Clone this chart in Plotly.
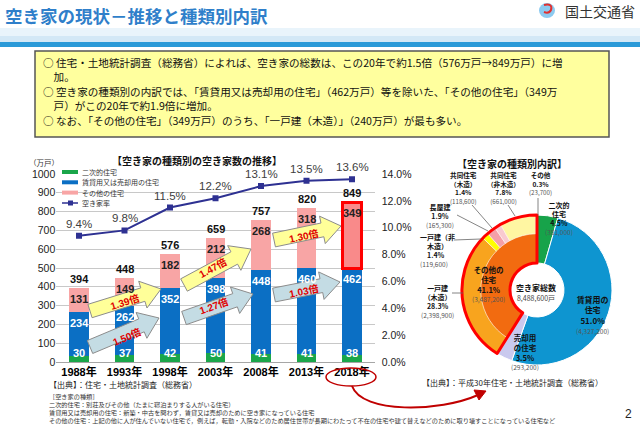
import math
import plotly.graph_objects as go

W, H = 640, 432
JP = "Noto Sans CJK JP"
NUM = "Liberation Sans, Noto Sans CJK JP"

# ---------------- data ----------------
years = ["1988年", "1993年", "1998年", "2003年", "2008年", "2013年", "2018年"]
second_homes = [30, 37, 42, 50, 41, 41, 38]          # 二次的住宅
rental_sale = [234, 262, 352, 398, 448, 460, 462]    # 賃貸用又は売却用の住宅
other_homes = [131, 149, 182, 212, 268, 318, 349]    # その他の住宅
totals = [394, 448, 576, 659, 757, 820, 849]
vacancy_rate = [9.4, 9.8, 11.5, 12.2, 13.1, 13.5, 13.6]  # 空き家率 %

donut_main_labels = ["二次的住宅", "賃貸用の住宅", "売却用の住宅", "その他の住宅"]
donut_main_values = [381000, 4327200, 293200, 3487200]
donut_sub_labels = ["一戸建（木造）", "一戸建（非木造）", "長屋建", "共同住宅（木造）", "共同住宅（非木造）", "その他"]
donut_sub_values = [2398900, 119600, 165300, 118600, 661000, 23700]
donut_total = 8488600


def px(x):
    return x / W


def py(y):
    return 1 - y / H


def ann(x, y, s, size, color="#000", bold=False, xanchor="center", yanchor="middle",
        family=JP, angle=0, align="center"):
    return dict(x=px(x), y=py(y), xref="paper", yref="paper", text=s, showarrow=False,
                font=dict(size=size, color=color, family=family, weight="bold" if bold else "normal"),
                xanchor=xanchor, yanchor=yanchor, textangle=angle, align=align, borderpad=0)


def rect(x0, y0, x1, y1, fill, line_color=None, lw=0, layer="above"):
    return dict(type="rect", xref="paper", yref="paper", x0=px(x0), x1=px(x1), y0=py(y0), y1=py(y1),
                fillcolor=fill, line=dict(color=line_color or "rgba(0,0,0,0)", width=lw), layer=layer)


def line(x0, y0, x1, y1, color="#555", lw=1):
    return dict(type="line", xref="paper", yref="paper", x0=px(x0), x1=px(x1), y0=py(y0), y1=py(y1),
                line=dict(color=color, width=lw))


def block_arrow(x0, y0, x1, y1, fill, shaft=14, head_w=28, head_len=19):
    L = math.hypot(x1 - x0, y1 - y0)
    dx, dy = (x1 - x0) / L, (y1 - y0) / L
    nx, ny = -dy, dx
    nkx, nky = x0 + dx * (L - head_len), y0 + dy * (L - head_len)
    pts = [
        (x0 + nx * shaft / 2, y0 + ny * shaft / 2),
        (nkx + nx * shaft / 2, nky + ny * shaft / 2),
        (nkx + nx * head_w / 2, nky + ny * head_w / 2),
        (x1, y1),
        (nkx - nx * head_w / 2, nky - ny * head_w / 2),
        (nkx - nx * shaft / 2, nky - ny * shaft / 2),
        (x0 - nx * shaft / 2, y0 - ny * shaft / 2),
    ]
    path = "M " + " L ".join(f"{px(a):.5f},{py(b):.5f}" for a, b in pts) + " Z"
    ang = math.degrees(math.atan2(y1 - y0, x1 - x0))
    return dict(type="path", xref="paper", yref="paper", path=path, fillcolor=fill,
                line=dict(color="#8c8c8c", width=1)), ang


fig = go.Figure()
xi = list(range(len(years)))
BW = 0.42

# ---------------- bar chart ----------------
fig.add_bar(x=xi, y=second_homes, width=BW, marker=dict(color="#1aa64a", line=dict(width=0)))
fig.add_bar(x=xi, y=rental_sale, width=BW, marker=dict(color="#0b6fc4", line=dict(width=0)))
pink_colors = ["#f8a5a5"] * (len(xi) - 1) + ["#f98a8a"]
fig.add_bar(x=xi, y=other_homes, width=BW,
            marker=dict(color=pink_colors,
                        line=dict(color=["rgba(0,0,0,0)"] * (len(xi) - 1) + ["#ff0000"],
                                  width=[0] * (len(xi) - 1) + [3])))
fig.add_scatter(x=xi, y=vacancy_rate, yaxis="y2", mode="lines+markers",
                line=dict(color="#2e3192", width=2),
                marker=dict(symbol="square", size=6, color="#2e3192"))

# ---------------- donut ----------------
dom = dict(x=[px(462), px(612)], y=[py(365), py(215)])
main_colors = ["#17a34a", "#0e95d0", "#c9c9ee", "#f26b10"]
fig.add_pie(values=donut_main_values, labels=donut_main_labels, hole=0.36, sort=False,
            direction="clockwise", rotation=0, textinfo="none", domain=dom,
            marker=dict(colors=main_colors, line=dict(color="white", width=1)))
sub_colors = ["#f8a41e", "#ffff00", "#f4a0a8", "#f9cad0", "#fff6a2", "#fffbe0"]
fig.add_pie(values=donut_main_values[:3] + donut_sub_values,
            labels=donut_main_labels[:3] + donut_sub_labels, hole=0.75, sort=False,
            direction="clockwise", rotation=0, textinfo="none", domain=dom,
            marker=dict(colors=["rgba(0,0,0,0)"] * 3 + sub_colors,
                        line=dict(color=["rgba(0,0,0,0)"] * 3 + ["white"] * 6,
                                  width=[0, 0, 0] + [0.6] * 6)))
fig.add_pie(values=donut_main_values, labels=donut_main_labels, hole=0.36, sort=False,
            direction="clockwise", rotation=0, textinfo="none", domain=dom,
            marker=dict(colors=["rgba(0,0,0,0)"] * 4,
                        line=dict(color=["rgba(0,0,0,0)"] * 3 + ["#ff0000"], width=[0, 0, 0, 3])))

annotations = []
shapes = []

# ---------------- header ----------------
shapes.append(rect(0, 28, 640, 36, "#e9f4fb", layer="below"))
shapes.append(rect(0, 36, 640, 42, "#d3e8f6", layer="below"))
shapes.append(rect(0, 42, 640, 47, "#2a9ad8", layer="below"))
annotations.append(ann(4, 16, "<b>空き家の現状－推移と種類別内訳</b>", 17.5, "#2f7fca", xanchor="left"))
annotations.append(ann(636, 11, "国土交通省", 14, "#333", xanchor="right"))
shapes.append(dict(type="circle", xref="paper", yref="paper", x0=px(539), x1=px(555), y0=py(18), y1=py(3),
                   fillcolor="#8ccaf0", line=dict(width=0)))
shapes.append(dict(type="path", xref="paper", yref="paper",
                   path=f"M {px(544)},{py(5)} Q {px(553)},{py(3)} {px(551)},{py(10)} Q {px(549)},{py(14)} {px(544)},{py(12)}",
                   line=dict(color="#e03030", width=2)))

# ---------------- yellow box ----------------
shapes.append(rect(35, 51, 609, 137, "#ffff9e", "#555555", 1.5))
box_paras = [
    (69.5, "○ 住宅・土地統計調査（総務省）によれば、空き家の総数は、この20年で約1.5倍（576万戸→849万戸）に増<br>　加。"),
    (98.5, "○ 空き家の種類別の内訳では、「賃貸用又は売却用の住宅」（462万戸）等を除いた、「その他の住宅」（349万<br>　戸）がこの20年で約1.9倍に増加。"),
    (121, "○ なお、「その他の住宅」（349万戸）のうち、「一戸建（木造）」（240万戸）が最も多い。"),
]
for y, s in box_paras:
    annotations.append(ann(42, y, s, 10.6, "#111", xanchor="left", align="left"))

# ---------------- bar chart decorations ----------------
annotations.append(ann(197, 161, "<b>【空き家の種類別の空き家数の推移】</b>", 10, "#111"))
annotations.append(ann(44, 162, "（万戸）", 7.5, "#333"))

# legend (manual)
legend_items = [("二次的住宅", "#1aa64a"), ("賃貸用又は売却用の住宅", "#0b6fc4"), ("その他の住宅", "#f8a5a5")]
for k, (lab, col) in enumerate(legend_items):
    yy = 172 + k * 10.3
    shapes.append(rect(62, yy - 2, 78, yy + 2, col))
    annotations.append(ann(81, yy, lab, 7, "#333", xanchor="left"))
shapes.append(line(62, 203, 78, 203, "#2e3192", 1.5))
shapes.append(rect(68, 200.5, 73, 205.5, "#2e3192"))
annotations.append(ann(81, 203, "空き家率", 7, "#333", xanchor="left"))

# value labels
for i in xi:
    g, b, p = second_homes[i], rental_sale[i], other_homes[i]
    annotations.append(dict(x=i, y=totals[i], xref="x", yref="y", text=f"<b>{totals[i]}</b>", showarrow=False,
                            yanchor="bottom", yshift=1, font=dict(size=11, color="#111", family=NUM)))
    annotations.append(dict(x=i, y=g + b + p, xref="x", yref="y", text=f"<b>{p}</b>", showarrow=False,
                            yanchor="top", yshift=-3, font=dict(size=11, color="#222", family=NUM)))
    annotations.append(dict(x=i, y=g + b, xref="x", yref="y", text=f"<b>{b}</b>", showarrow=False,
                            yanchor="top", yshift=-3, font=dict(size=11, color="white", family=NUM)))
    annotations.append(dict(x=i, y=0, xref="x", yref="y", text=f"<b>{g}</b>", showarrow=False,
                            yanchor="bottom", yshift=1, font=dict(size=11, color="white", family=NUM)))
    annotations.append(dict(x=i, y=vacancy_rate[i], xref="x", yref="y2", text=f"{vacancy_rate[i]:.1f}%",
                            showarrow=False, yanchor="bottom", yshift=4,
                            font=dict(size=11.5, color="#404040", family=NUM)))

# growth arrows
arrows = [
    ((90, 311), (161, 289), "#ffff99", (124, 302), "1.39倍"),
    ((90, 347), (159, 318), "#c4dce4", (126, 337), "1.50倍"),
    ((184, 285), (251, 249), "#ffff99", (212, 268), "1.47倍"),
    ((184, 318), (253, 294), "#c4dce4", (213, 306), "1.27倍"),
    ((274, 240), (341, 226), "#ffff99", (303, 236), "1.30倍"),
    ((274, 295), (340, 282), "#c4dce4", (303, 291), "1.03倍"),
]
for (x0, y0), (x1, y1), col, (tx, ty), label in arrows:
    shp, ang = block_arrow(x0, y0, x1, y1, col)
    shapes.append(shp)
    annotations.append(ann(tx, ty, f"<b>{label}</b>", 10, "#e00000", angle=ang, family=NUM))

# 2018 ellipse and curved arrow
shapes.append(dict(type="circle", xref="paper", yref="paper", x0=px(326), x1=px(376), y0=py(386), y1=py(368),
                   line=dict(color="#c00000", width=1.5)))
shapes.append(dict(type="path", xref="paper", yref="paper",
                   path=f"M {px(352)},{py(386)} C {px(362)},{py(414)} {px(440)},{py(412)} {px(478)},{py(395)}",
                   line=dict(color="#c00000", width=2)))
shapes.append(dict(type="path", xref="paper", yref="paper",
                   path=f"M {px(486)},{py(391)} L {px(474)},{py(390)} L {px(479)},{py(400)} Z",
                   fillcolor="#c00000", line=dict(color="#c00000", width=1)))

# bottom notes
annotations.append(ann(48, 384, "【出典】：住宅・土地統計調査（総務省）", 8, "#222", xanchor="left"))
notes = [
    "［空き家の種類］",
    "二次的住宅：別荘及びその他（たまに寝泊まりする人がいる住宅）",
    "賃貸用又は売却用の住宅：新築・中古を問わず，賃貸又は売却のために空き家になっている住宅",
    "その他の住宅：上記の他に人が住んでいない住宅で，例えば，転勤・入院などのため居住世帯が長期にわたって不在の住宅や建て替えなどのために取り壊すことになっている住宅など",
]
for k, s in enumerate(notes):
    annotations.append(ann(48, 396 + k * 8.3, s, 6.2, "#333", xanchor="left"))
annotations.append(ann(628, 414, "2", 12, "#222", family=NUM))

# ---------------- donut labels ----------------
annotations.append(ann(512, 163, "<b>【空き家の種類別内訳】</b>", 10, "#111"))


def dl(x, y, head, pct, num, hs=7, ns=6.5, color="#111"):
    annotations.append(ann(x, y, f"<b>{head}<br>{pct}</b><br><span style='font-size:{ns}px;color:#555'>{num}</span>",
                           hs, color))


dl(463, 188, "共同住宅<br>（木造）", "1.4%", "(118,600)", hs=6.6, ns=6.2)
dl(503, 188, "共同住宅<br>（非木造）", "7.8%", "(661,000)", hs=6.6, ns=6.2)
dl(540, 183, "その他", "0.3%", "(23,700)", hs=6.6, ns=6.2)
dl(559, 218, "二次的<br>住宅", "4.5%", "(381,000)")
dl(440, 216, "長屋建", "1.9%", "(165,300)")
annotations.append(ann(437, 250, "<b>一戸建（非<br>　木造）<br>　1.4%</b><br><span style='font-size:6.5px;color:#555'>(119,600)</span>", 7, "#111", align="left"))
dl(437, 301, "一戸建<br>（木造）", "28.3%", "(2,398,900)")
dl(488, 284, "その他の<br>住宅", "41.1%", "(3,487,200)", hs=7.5)
annotations.append(ann(536, 292, "<b>空き家総数</b><br><span style='font-size:7px;color:#444'>8,488,600戸</span>", 8, "#111"))
dl(592, 315, "賃貸用の<br>住宅", "51.0%", "(4,327,200)", hs=8)
dl(525, 352, "売却用<br>の住宅", "3.5%", "(293,200)", hs=7.5)
annotations.append(ann(512, 382, "【出典】：平成30年住宅・土地統計調査（総務省）", 8, "#222"))

# leader lines
for seg in [(472, 205, 492, 228), (508, 205, 515, 216), (538, 198, 538, 215),
            (457, 215, 488, 231), (454, 240, 481, 239), (452, 293, 463, 293)]:
    shapes.append(line(*seg, color="#666", lw=0.8))

fig.update_layout(
    width=W, height=H, margin=dict(l=0, r=0, t=0, b=0), template="none",
    paper_bgcolor="white", plot_bgcolor="rgba(0,0,0,0)", showlegend=False, barmode="stack",
    xaxis=dict(domain=[px(56.25), px(374.75)], range=[-0.5, 6.5], tickvals=xi,
               ticktext=[f"<b>{y}</b>" for y in years], tickfont=dict(size=11, color="#000", family=NUM),
               showgrid=False, zeroline=False, showline=True, linecolor="#a6a6a6", ticks="", automargin=False),
    yaxis=dict(domain=[py(362), py(174)], range=[0, 1000], dtick=100,
               tickfont=dict(size=10.5, color="#222", family=NUM), gridcolor="#c8c8c8", gridwidth=1,
               zeroline=False, showline=False, ticks="", automargin=False),
    yaxis2=dict(domain=[py(362), py(174)], overlaying="y", side="right", range=[0, 14], dtick=2,
                tickformat=".1f", ticksuffix="%", showgrid=False, zeroline=False, showline=False, ticks="",
                tickfont=dict(size=10.5, color="#222", family=NUM), automargin=False, ticklabelstandoff=6),
    annotations=annotations, shapes=shapes,
)

fig.write_html("out.html", config={"displayModeBar": False},
               post_script="document.body.style.margin='0';document.body.style.overflow='hidden';")
